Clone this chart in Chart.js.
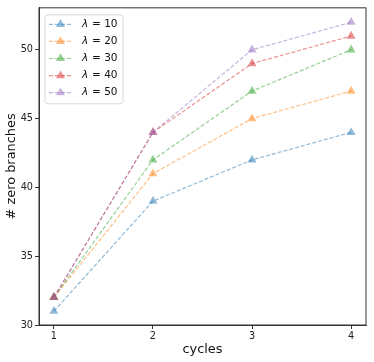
<!DOCTYPE html>
<html>
<head>
<meta charset="utf-8">
<script src="https://cdn.jsdelivr.net/npm/chart.js@4"></script>
<style>
    html, body { margin: 0; padding: 0; background: #fff; }
    #box { width: 374px; height: 362px; }
</style>
</head>
<body>
<div id="box"><canvas id="myChart"></canvas></div>
<script>
// data
const cycles = [1, 2, 3, 4];
const lambdas = ['10', '20', '30', '40', '50'];
const lam10 = [31, 39, 42, 44];
const lam20 = [32, 41, 45, 47];
const lam30 = [32, 42, 47, 50];
const lam40 = [32, 44, 49, 51];
const lam50 = [32, 44, 50, 52];
const yTicks = [30, 35, 40, 45, 50];

const colors = ['rgba(31,119,180,0.5)', 'rgba(255,127,14,0.5)', 'rgba(44,160,44,0.5)',
    'rgba(214,39,40,0.5)', 'rgba(148,103,189,0.5)'];
const series = [lam10, lam20, lam30, lam40, lam50];

const fontName = '"DejaVu Sans", sans-serif';

// legend box inside the plot, like matplotlib
const boxLegend = {
    id: 'boxLegend',
    afterDraw(chart) {
        const ctx = chart.ctx;
        const area = chart.chartArea;
        const x0 = area.left + 6, y0 = area.top + 7;
        const w = 78, h = 89;
        ctx.save();
        ctx.beginPath();
        ctx.roundRect(x0, y0, w, h, 3);
        ctx.fillStyle = 'rgba(255,255,255,0.8)';
        ctx.fill();
        ctx.strokeStyle = '#d8d8d8';
        ctx.lineWidth = 1;
        ctx.stroke();

        chart.data.datasets.forEach((ds, i) => {
            const yy = y0 + 9.5 + i * 17.1;
            ctx.strokeStyle = ds.borderColor;
            ctx.lineWidth = 1.2;
            ctx.setLineDash([4, 2]);
            ctx.beginPath();
            ctx.moveTo(x0 + 4, yy);
            ctx.lineTo(x0 + 27, yy);
            ctx.stroke();
            ctx.setLineDash([]);
            ctx.fillStyle = ds.backgroundColor;
            Chart.helpers.drawPoint(ctx, {pointStyle: 'triangle', radius: 5.2, borderWidth: 0},
                x0 + 15.5, yy);

            ctx.fillStyle = '#111';
            ctx.textBaseline = 'middle';
            ctx.font = 'italic 10.5px ' + fontName;
            ctx.fillText('λ', x0 + 37, yy);
            ctx.font = '10.5px ' + fontName;
            ctx.fillText('= ' + lambdas[i], x0 + 47, yy);
        });
        ctx.restore();
    }
};

// top and right spines
const frame = {
    id: 'frame',
    afterDatasetsDraw(chart) {
        const ctx = chart.ctx;
        const a = chart.chartArea;
        ctx.save();
        ctx.strokeStyle = '#333';
        ctx.lineWidth = 1;
        ctx.strokeRect(a.left, a.top, a.right - a.left, a.bottom - a.top);
        ctx.restore();
    }
};

// later series drawn on top, as in the original plot
const datasets = series.map((vals, i) => ({
    label: 'λ = ' + lambdas[i],
    data: cycles.map((c, j) => ({x: c, y: vals[j]})),
    order: series.length - 1 - i,
    borderColor: colors[i],
    backgroundColor: colors[i],
    borderWidth: 1.2,
    borderDash: [4, 2],
    pointStyle: 'triangle',
    pointRadius: 5.2,
    pointBorderWidth: 0,
    tension: 0
}));

new Chart('myChart', {
    type: 'line',
    data: { datasets: datasets },
    options: {
        responsive: true,
        maintainAspectRatio: false,
        animation: false,
        layout: { padding: { top: 7, right: 8, left: 0, bottom: 0 } },
        plugins: {
            legend: { display: false },
            tooltip: { enabled: false }
        },
        scales: {
            x: {
                type: 'linear',
                min: 0.85,
                max: 4.15,
                afterBuildTicks: (scale) => { scale.ticks = cycles.map(v => ({value: v})); },
                afterFit: (scale) => { scale.height = 37; },
                grid: { display: true, drawOnChartArea: false, tickLength: 4, color: '#333' },
                border: { display: true, color: '#333', width: 1 },
                ticks: { color: '#222', font: { family: fontName, size: 9.7 }, padding: 2, maxRotation: 0 },
                title: { display: true, text: 'cycles', color: '#111',
                    font: { family: fontName, size: 12.9 }, padding: { top: 1, bottom: 5 } }
            },
            y: {
                min: 30,
                max: 53.05,
                afterBuildTicks: (scale) => { scale.ticks = yTicks.map(v => ({value: v})); },
                afterFit: (scale) => { scale.width = 39; },
                grid: { display: true, drawOnChartArea: false, tickLength: 4, color: '#333' },
                border: { display: true, color: '#333', width: 1 },
                ticks: { color: '#222', font: { family: fontName, size: 9.7 }, padding: 2 },
                title: { display: true, text: '# zero branches', color: '#111',
                    font: { family: fontName, size: 12.9 }, padding: { top: 4, bottom: 0 } }
            }
        }
    },
    plugins: [frame, boxLegend]
});
</script>
</body>
</html>
